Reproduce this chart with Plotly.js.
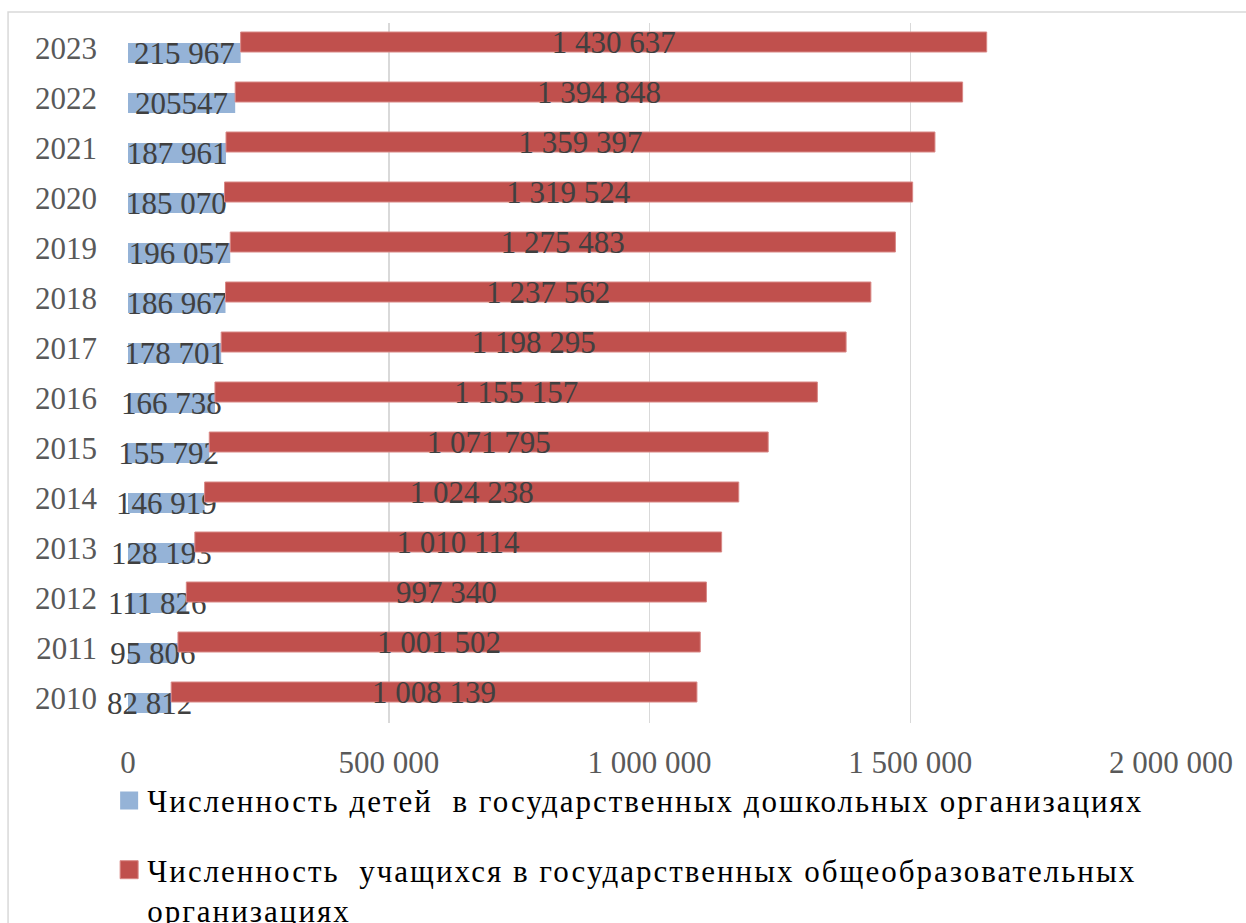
<!DOCTYPE html>
<html>
<head>
<meta charset="utf-8">
<script src="https://cdn.plot.ly/plotly-3.0.1.min.js"></script>
<style>
html,body{margin:0;padding:0;background:#fff;overflow:hidden;}
#wrap{width:1246px;height:923px;overflow:hidden;}
.legendtext{letter-spacing:2px;}
</style>
</head>
<body>
<div id="wrap"><div id="chart"></div></div>
<script>
var years = ['2010','2011','2012','2013','2014','2015','2016','2017','2018','2019','2020','2021','2022','2023'];
var preschool = [82812, 95806, 111826, 128193, 146919, 155792, 166738, 178701, 186967, 196057, 185070, 187961, 205547, 215967];
var school = [1008139, 1001502, 997340, 1010114, 1024238, 1071795, 1155157, 1198295, 1237562, 1275483, 1319524, 1359397, 1394848, 1430637];
var preschoolLabels = ['82 812','95 806','111 826','128 193','146 919','155 792','166 738','178 701','186 967','196 057','185 070','187 961','205547','215 967'];
var xTicks = [0, 500000, 1000000, 1500000, 2000000];
var seriesNames = ['Численность детей \u00a0в государственных дошкольных организациях',
                   'Численность \u00a0учащихся в государственных общеобразовательных<br>организациях'];

function fmt(v){ return String(v).replace(/\B(?=(\d{3})+(?!\d))/g, ' '); }

var FONT = 'Liberation Serif, DejaVu Serif, serif';

var traces = [
  {
    type: 'bar', orientation: 'h', name: seriesNames[0], legendgroup: 'a',
    y: years, x: preschool,
    width: 0.4, offset: -0.3,
    marker: {color: '#95B3D7', line: {width: 0}},
    text: preschoolLabels, textposition: 'inside', insidetextanchor: 'middle',
    constraintext: 'none', textangle: 0, cliponaxis: false,
    insidetextfont: {family: FONT, size: 31, color: '#404040'},
    hoverinfo: 'skip'
  },
  {
    type: 'bar', orientation: 'h', name: seriesNames[1], legendgroup: 'b',
    y: years, x: school, base: preschool,
    width: 0.4, offset: -0.08,
    marker: {color: '#C0504D', line: {width: 1, color: '#D98886'}},
    text: school.map(fmt), textposition: 'inside', insidetextanchor: 'middle',
    constraintext: 'none', textangle: 0, cliponaxis: false,
    insidetextfont: {family: FONT, size: 31, color: '#404040'},
    hoverinfo: 'skip'
  }
];

var layout = {
  width: 1246, height: 1000,
  margin: {l: 128, r: 75, t: 23, b: 277},
  paper_bgcolor: '#ffffff', plot_bgcolor: '#ffffff',
  barmode: 'overlay',
  separators: ', ',
  font: {family: FONT, size: 31, color: '#595959'},
  xaxis: {
    range: [0, 2000000], tickvals: xTicks, tickformat: ',d',
    showgrid: true, gridcolor: '#D9D9D9', gridwidth: 1.5,
    zeroline: false, showline: false, ticks: '',
    ticklabelstandoff: 18,
    tickfont: {family: FONT, size: 31, color: '#595959'}
  },
  yaxis: {
    type: 'category', range: [-0.5, 13.5],
    showgrid: false, zeroline: false, showline: false, ticks: '',
    ticklabelstandoff: 30,
    tickfont: {family: FONT, size: 31, color: '#595959'}
  },
  showlegend: true,
  legend: {
    orientation: 'v', x: -0.02, xanchor: 'left', y: -0.0725, yanchor: 'top',
    valign: 'top', tracegroupgap: 26, traceorder: 'grouped',
    font: {family: FONT, size: 31, color: '#000000'},
    bgcolor: 'rgba(0,0,0,0)', borderwidth: 0
  },
  shapes: [
    {type: 'rect', xref: 'paper', yref: 'paper', x0: -0.115, x1: 1.3, y0: -0.5, y1: 1.0157,
     line: {color: '#D9D9D9', width: 1.5}, fillcolor: 'rgba(0,0,0,0)', layer: 'below'}
  ]
};

Plotly.newPlot('chart', traces, layout, {staticPlot: true}).then(function(){
  document.querySelectorAll('#chart .legendpoints path').forEach(function(p){
    p.setAttribute('d', 'M11,9H-7V-9H11Z');
  });
});
</script>
</body>
</html>
